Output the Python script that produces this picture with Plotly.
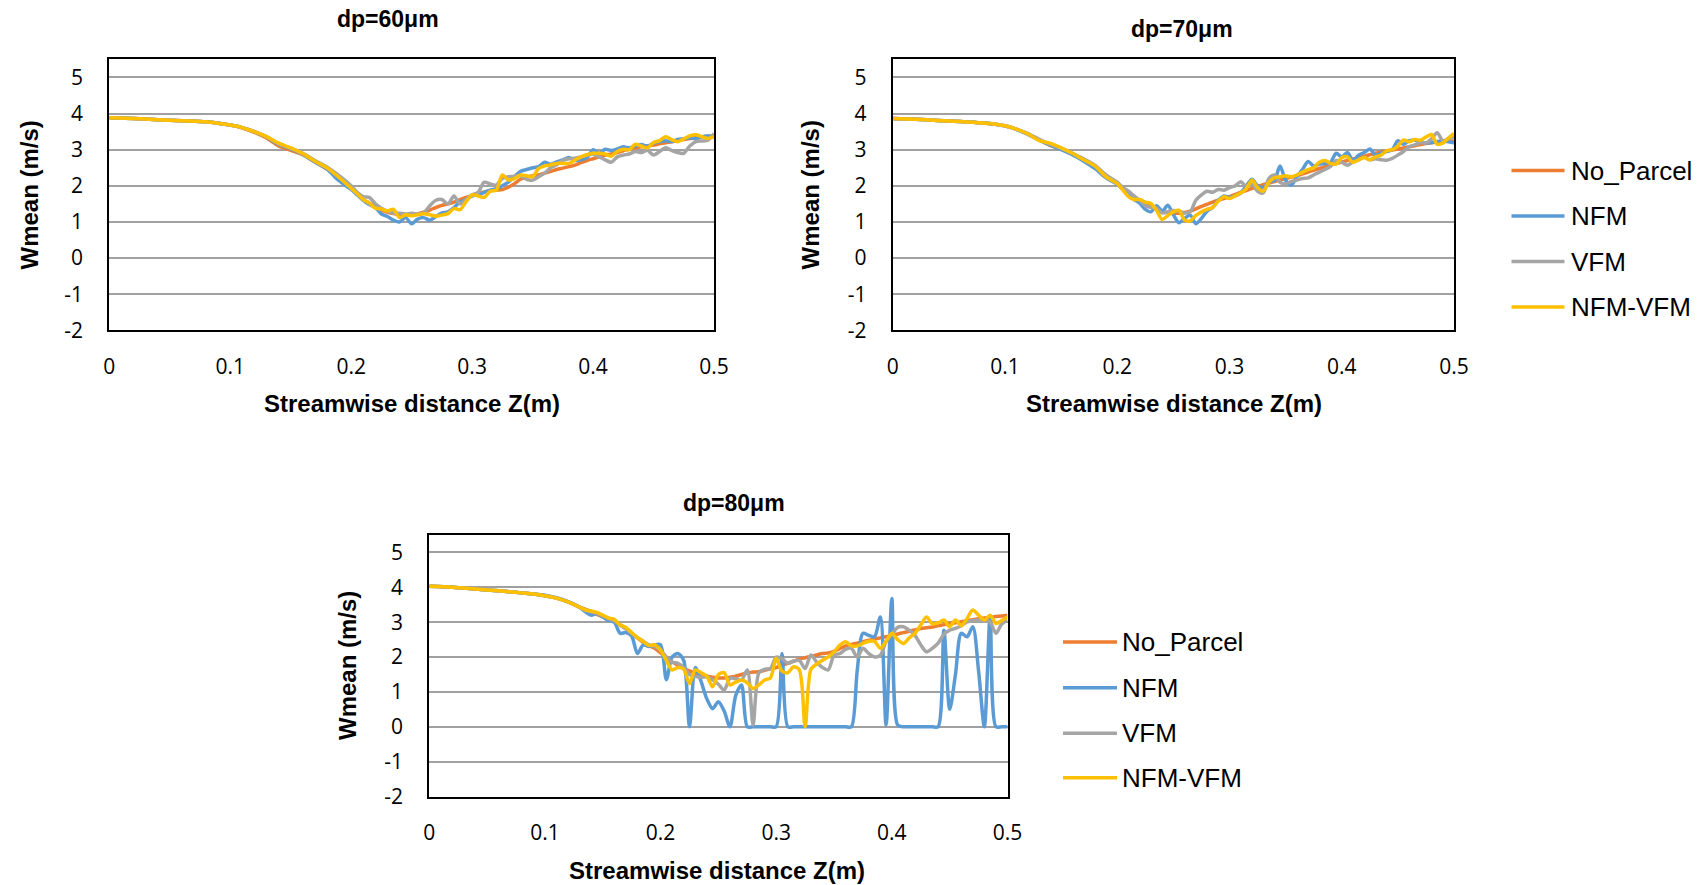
import plotly.graph_objects as go

# ---------------- data ----------------
SERIES = ["No_Parcel", "NFM", "VFM", "NFM-VFM"]
COLORS = ["#ED7D31", "#5B9BD5", "#A5A5A5", "#FFC000"]
TITLES = ["dp=60\u03bcm", "dp=70\u03bcm", "dp=80\u03bcm"]
X_TITLE = "Streamwise distance Z(m)"
Y_TITLE = "Wmean (m/s)"
X_TICKS = [0, 0.1, 0.2, 0.3, 0.4, 0.5]
X_TICK_LABELS = ["0", "0.1", "0.2", "0.3", "0.4", "0.5"]
Y_TICKS = [-2, -1, 0, 1, 2, 3, 4, 5]
Y_TICK_LABELS = ["-2", "-1", "0", "1", "2", "3", "4", "5"]

Z_COARSE = [0, 0.02, 0.04, 0.06, 0.08, 0.09, 0.10, 0.11, 0.12, 0.13]
Z_MID = [0.14, 0.15, 0.16, 0.17, 0.18, 0.19, 0.20]
Z_MID3 = [0.135, 0.14, 0.145, 0.15, 0.155, 0.16, 0.165, 0.17, 0.175, 0.18,
          0.185, 0.19, 0.195, 0.20]
Z_FINE = [0.205, 0.21, 0.215, 0.22, 0.225, 0.23, 0.235, 0.24, 0.245, 0.25,
          0.255, 0.26, 0.265, 0.27, 0.275, 0.28, 0.285, 0.29, 0.295, 0.30,
          0.305, 0.31, 0.315, 0.32, 0.325, 0.33, 0.335, 0.34, 0.345, 0.35,
          0.355, 0.36, 0.365, 0.37, 0.375, 0.38, 0.385, 0.39, 0.395, 0.40,
          0.405, 0.41, 0.415, 0.42, 0.425, 0.43, 0.435, 0.44, 0.445, 0.45,
          0.455, 0.46, 0.465, 0.47, 0.475, 0.48, 0.485, 0.49, 0.495, 0.50]
Z_A = Z_COARSE + Z_MID + Z_FINE      # charts dp=60 and dp=70
Z_B = Z_COARSE + Z_MID3 + Z_FINE     # chart dp=80

# dp = 60 um
C1_NO_PARCEL = [3.88, 3.86, 3.83, 3.80, 3.77, 3.73, 3.68, 3.60, 3.48, 3.32,
                3.10, 2.98, 2.86, 2.66, 2.47, 2.22, 1.94,
                1.78, 1.62, 1.52, 1.42, 1.33, 1.27, 1.23, 1.21, 1.20, 1.20,
                1.22, 1.27, 1.33, 1.40, 1.46, 1.50, 1.55, 1.62, 1.68, 1.73,
                1.78, 1.83, 1.86, 1.88, 1.90, 1.96, 2.06, 2.18, 2.24, 2.28,
                2.30, 2.35, 2.40, 2.45, 2.49, 2.53, 2.57, 2.64, 2.70, 2.75,
                2.80, 2.85, 2.88, 2.92, 2.97, 3.02, 3.05, 3.08, 3.10, 3.13,
                3.16, 3.19, 3.22, 3.25, 3.28, 3.31, 3.34, 3.36, 3.37, 3.38]
C1_NFM = [3.88, 3.86, 3.83, 3.80, 3.77, 3.73, 3.68, 3.61, 3.50, 3.35,
          3.15, 3.02, 2.87, 2.66, 2.46, 2.14, 1.90,
          1.75, 1.60, 1.48, 1.40, 1.22, 1.15, 1.05, 1.00, 1.12, 0.95,
          1.08, 1.12, 1.05, 1.15, 1.25, 1.28, 1.40, 1.55, 1.62, 1.72,
          1.75, 1.82, 1.88, 1.92, 2.00, 2.10, 2.25, 2.40, 2.45, 2.50,
          2.53, 2.65, 2.60, 2.66, 2.72, 2.78, 2.70, 2.72, 2.78, 3.00,
          2.90, 3.01, 2.98, 3.02, 3.08, 3.05, 3.10, 3.14, 3.10, 3.18,
          3.22, 3.25, 3.22, 3.28, 3.30, 3.33, 3.30, 3.36, 3.38, 3.35]
C1_VFM = [3.88, 3.86, 3.83, 3.80, 3.77, 3.73, 3.68, 3.61, 3.50, 3.36,
          3.16, 3.04, 2.90, 2.70, 2.52, 2.28, 2.00,
          1.82, 1.70, 1.68, 1.50, 1.38, 1.30, 1.25, 1.24, 1.22, 1.24,
          1.22, 1.25, 1.45, 1.60, 1.62, 1.50, 1.72, 1.50, 1.62, 1.75,
          1.82, 2.10, 2.05, 2.02, 2.20, 2.25, 2.26, 2.28, 2.18, 2.16,
          2.25, 2.35, 2.50, 2.58, 2.70, 2.75, 2.76, 2.80, 2.85, 2.88,
          2.80, 2.72, 2.65, 2.80, 2.85, 2.88, 2.95, 2.92, 2.98, 2.85,
          2.95, 3.05, 2.98, 2.92, 2.90, 3.10, 3.22, 3.24, 3.26, 3.45]
C1_NFM_VFM = [3.88, 3.86, 3.83, 3.80, 3.77, 3.73, 3.68, 3.61, 3.50, 3.36,
              3.18, 3.05, 2.89, 2.68, 2.50, 2.23, 1.93,
              1.78, 1.62, 1.52, 1.38, 1.36, 1.30, 1.35, 1.12, 1.20, 1.17,
              1.20, 1.23, 1.20, 1.16, 1.19, 1.23, 1.37, 1.34, 1.56, 1.75,
              1.72, 1.68, 1.85, 1.88, 2.30, 2.16, 2.20, 2.30, 2.28, 2.25,
              2.48, 2.55, 2.58, 2.62, 2.62, 2.62, 2.71, 2.80, 2.86, 2.90,
              2.90, 2.88, 2.82, 2.95, 3.01, 3.00, 3.15, 3.10, 3.05, 3.20,
              3.25, 3.36, 3.28, 3.22, 3.30, 3.38, 3.41, 3.36, 3.31, 3.36]

# dp = 70 um
C2_NO_PARCEL = [3.86, 3.84, 3.81, 3.78, 3.74, 3.71, 3.66, 3.57, 3.44, 3.28,
                3.12, 3.02, 2.88, 2.72, 2.54, 2.26, 2.05,
                1.92, 1.80, 1.68, 1.58, 1.50, 1.42, 1.35, 1.30, 1.26, 1.24,
                1.24, 1.26, 1.30, 1.36, 1.43, 1.49, 1.55, 1.60, 1.65, 1.70,
                1.76, 1.82, 1.87, 1.93, 1.98, 2.03, 2.08, 2.12, 2.16, 2.20,
                2.24, 2.28, 2.33, 2.38, 2.43, 2.48, 2.53, 2.58, 2.62, 2.66,
                2.70, 2.74, 2.78, 2.82, 2.86, 2.90, 2.93, 2.96, 2.99, 3.02,
                3.05, 3.08, 3.11, 3.14, 3.17, 3.19, 3.21, 3.22, 3.23, 3.24]
C2_NFM = [3.86, 3.84, 3.81, 3.78, 3.74, 3.71, 3.65, 3.56, 3.43, 3.27,
          3.13, 3.00, 2.86, 2.68, 2.48, 2.22, 2.04,
          1.90, 1.78, 1.62, 1.52, 1.35, 1.28, 1.45, 1.30, 1.46, 1.20,
          0.98, 1.10, 1.19, 0.95, 1.10, 1.30, 1.40, 1.60, 1.72, 1.68,
          1.72, 1.80, 2.00, 2.18, 2.00, 1.95, 2.10, 2.15, 2.55, 2.15,
          2.02, 2.25, 2.45, 2.67, 2.55, 2.60, 2.62, 2.65, 2.90, 2.80,
          2.92, 2.70, 2.85, 2.92, 3.02, 2.85, 2.90, 2.95, 3.00, 3.25,
          3.15, 3.25, 3.26, 3.22, 3.18, 3.20, 3.22, 3.25, 3.22, 3.19]
C2_VFM = [3.86, 3.84, 3.81, 3.78, 3.74, 3.71, 3.66, 3.57, 3.45, 3.29,
          3.15, 3.04, 2.90, 2.75, 2.57, 2.30, 2.10,
          1.95, 1.85, 1.72, 1.60, 1.45, 1.40, 1.38, 1.25, 1.28, 1.32,
          1.30, 1.25, 1.28, 1.60, 1.75, 1.85, 1.82, 1.90, 1.88, 1.95,
          2.00, 2.11, 1.98, 2.05, 1.85, 1.80, 2.20, 2.30, 2.10, 2.05,
          2.12, 2.16, 2.20, 2.22, 2.30, 2.38, 2.45, 2.54, 2.70, 2.65,
          2.57, 2.66, 2.72, 2.78, 2.72, 2.75, 2.72, 2.71, 2.76, 2.85,
          2.95, 3.08, 3.13, 3.20, 3.18, 3.30, 3.47, 3.25, 3.30, 3.36]
C2_NFM_VFM = [3.86, 3.84, 3.81, 3.78, 3.74, 3.71, 3.66, 3.57, 3.44, 3.26,
              3.18, 3.05, 2.90, 2.72, 2.55, 2.25, 2.06,
              1.88, 1.70, 1.62, 1.62, 1.55, 1.51, 1.32, 1.07, 1.18, 1.28,
              1.32, 1.05, 1.03, 1.18, 1.28, 1.35, 1.40, 1.58, 1.70, 1.65,
              1.72, 1.80, 1.92, 2.16, 1.95, 1.85, 2.10, 2.22, 2.25, 2.28,
              2.25, 2.30, 2.38, 2.45, 2.50, 2.65, 2.70, 2.62, 2.60, 2.78,
              2.80, 2.65, 2.72, 2.78, 2.72, 2.80, 2.85, 2.97, 3.00, 3.10,
              3.27, 3.22, 3.28, 3.26, 3.35, 3.42, 3.15, 3.18, 3.32, 3.45]

# dp = 80 um
C3_NO_PARCEL = [4.03, 4.00, 3.95, 3.90, 3.84, 3.81, 3.76, 3.69, 3.58, 3.43,
                3.37, 3.31, 3.22, 3.16, 3.10, 3.04, 2.92, 2.82, 2.68, 2.55,
                2.42, 2.33, 2.25, 2.12,
                1.98, 1.86, 1.76, 1.68, 1.60, 1.54, 1.49, 1.45, 1.42, 1.40,
                1.40, 1.42, 1.45, 1.50, 1.54, 1.57, 1.58, 1.62, 1.66, 1.70,
                1.76, 1.82, 1.88, 1.94, 1.98, 2.02, 2.06, 2.10, 2.12, 2.16,
                2.24, 2.32, 2.36, 2.40, 2.44, 2.48, 2.52, 2.55, 2.58, 2.62,
                2.66, 2.70, 2.74, 2.78, 2.82, 2.84, 2.86, 2.90, 2.93, 2.96,
                2.98, 3.01, 3.04, 3.07, 3.10, 3.12, 3.14, 3.16, 3.18, 3.20]
C3_NFM = [4.03, 4.00, 3.95, 3.90, 3.84, 3.81, 3.77, 3.70, 3.59, 3.43,
          3.30, 3.20, 3.25, 3.15, 3.05, 3.00, 2.68, 2.70, 2.60, 2.10,
          2.35, 2.30, 2.35, 2.35,
          1.35, 2.00, 2.10, 1.90, 0.00, 1.70, 1.30, 0.80, 0.52, 0.72,
          0.45, 0.00, 0.90, 1.20, 0.00, 0.00, 0.00, 0.00, 0.00, 0.00,
          2.10, 0.00, 0.00, 0.00, 0.00, 0.00, 0.00, 0.00, 0.00, 0.00,
          0.00, 0.00, 0.00, 1.60, 2.68, 2.62, 2.58, 3.15, 0.05, 3.68,
          0.05, 0.00, 0.00, 0.00, 0.00, 0.00, 0.00, 0.00, 2.77, 0.50,
          1.50, 2.68, 2.58, 2.87, 1.60, 0.00, 3.15, 0.00, 0.00, 0.00]
C3_VFM = [4.03, 4.00, 3.95, 3.90, 3.84, 3.81, 3.76, 3.69, 3.58, 3.43,
          3.35, 3.30, 3.25, 3.18, 3.10, 3.04, 2.92, 2.80, 2.68, 2.55,
          2.45, 2.35, 2.30, 2.20,
          2.00, 1.85, 1.82, 1.70, 1.50, 1.45, 1.42, 1.43, 1.35, 1.22,
          1.05, 1.39, 1.38, 1.34, 1.63, 0.05, 1.55, 1.65, 1.67, 2.00,
          1.95, 1.82, 1.88, 1.90, 1.67, 2.06, 1.85, 1.70, 1.63, 2.05,
          2.10, 2.22, 2.25, 2.00, 2.25, 2.10, 2.00, 2.05, 2.45, 2.65,
          2.85, 2.87, 2.77, 2.62, 2.35, 2.15, 2.25, 2.40, 2.65, 2.77,
          2.82, 2.90, 3.01, 3.04, 3.06, 3.06, 3.00, 2.68, 2.95, 3.06]
C3_NFM_VFM = [4.03, 4.00, 3.95, 3.90, 3.84, 3.81, 3.76, 3.69, 3.58, 3.43,
              3.35, 3.32, 3.28, 3.20, 3.12, 3.08, 2.92, 2.85, 2.70, 2.56,
              2.45, 2.33, 2.35, 2.20,
              1.90, 1.63, 1.70, 1.65, 1.24, 1.63, 1.55, 1.45, 1.15, 1.50,
              1.55, 1.20, 1.28, 1.34, 1.26, 1.10, 1.20, 1.34, 1.40, 1.96,
              1.60, 1.55, 1.72, 1.63, 0.00, 1.65, 1.80, 1.91, 2.00, 2.15,
              2.34, 2.44, 2.32, 2.32, 2.39, 2.45, 2.45, 2.25, 2.45, 2.68,
              2.50, 2.39, 2.55, 2.68, 2.92, 3.15, 2.95, 2.98, 3.06, 2.87,
              3.06, 2.90, 3.10, 3.35, 3.20, 3.06, 3.20, 2.96, 3.05, 3.15]

# ---------------- layout helpers (pixel geometry of the page) ----------------
W, H = 1701, 885


def fx(px):
    return px / W


def fy(py):
    return 1 - py / H


PANELS = [
    dict(title=TITLES[0], z=Z_A,
         ys=[C1_NO_PARCEL, C1_NFM, C1_VFM, C1_NFM_VFM],
         box=(109.3, 714.0, 59.3, 330.4), title_xy=(388, 18.5),
         ytitle_xy=(29.5, 195), xtitle_xy=(412, 403.5)),
    dict(title=TITLES[1], z=Z_A,
         ys=[C2_NO_PARCEL, C2_NFM, C2_VFM, C2_NFM_VFM],
         box=(892.8, 1454.0, 59.3, 330.4), title_xy=(1181.5, 29.3),
         ytitle_xy=(811.4, 195), xtitle_xy=(1173.8, 403.5)),
    dict(title=TITLES[2], z=Z_B,
         ys=[C3_NO_PARCEL, C3_NFM, C3_VFM, C3_NFM_VFM],
         box=(429.3, 1007.5, 535.0, 796.5), title_xy=(733.8, 503.3),
         ytitle_xy=(347, 666), xtitle_xy=(717, 870)),
]

LEGENDS = [
    dict(x0=1511.5, x1=1564.5, xt=1569, rows=[170.5, 216.0, 261.5, 307.0]),
    dict(x0=1063.0, x1=1117.0, xt=1120, rows=[642.0, 687.8, 733.3, 777.8]),
]

TICK_FONT = dict(family="Open Sans, Liberation Sans, Arial", size=21, color="#000000")
BOLD_FONT = dict(family="Liberation Sans, Arial", size=23, color="#000000", weight="bold")
XT_FONT = dict(family="Liberation Sans, Arial", size=24, color="#000000", weight="bold")
LEG_FONT = dict(family="Liberation Sans, Arial", size=26, color="#000000")

fig = go.Figure()
annotations = []
shapes = []
layout_axes = {}

for i, p in enumerate(PANELS):
    suffix = "" if i == 0 else str(i + 1)
    xref = "x" + suffix
    yref = "y" + suffix
    for name, color, yv in zip(SERIES, COLORS, p["ys"]):
        fig.add_trace(go.Scatter(
            x=p["z"], y=yv, name=name, mode="lines",
            line=dict(color=color, width=3.5, shape="spline", smoothing=0.8),
            xaxis=xref, yaxis=yref, showlegend=False))
    x0, x1, y0, y1 = p["box"]
    layout_axes["xaxis" + suffix] = dict(
        domain=[fx(x0), fx(x1)], anchor=yref, range=[0, 0.5], automargin=False,
        tickmode="array", tickvals=X_TICKS, ticktext=X_TICK_LABELS,
        showgrid=False, zeroline=False,
        showline=True, mirror=True, linecolor="#000000", linewidth=2,
        ticks="outside", ticklen=16, tickcolor="rgba(0,0,0,0)",
        tickfont=TICK_FONT)
    layout_axes["yaxis" + suffix] = dict(
        domain=[fy(y1), fy(y0)], anchor=xref, range=[-2, 5.5], automargin=False,
        tickmode="array", tickvals=Y_TICKS, ticktext=Y_TICK_LABELS,
        showgrid=True, gridcolor="#A0A0A0", gridwidth=1.6, zeroline=False,
        showline=True, mirror=True, linecolor="#000000", linewidth=2,
        ticks="outside", ticklen=20, tickcolor="rgba(0,0,0,0)",
        tickfont=TICK_FONT)
    tx, ty = p["title_xy"]
    annotations.append(dict(text=p["title"], x=fx(tx), y=fy(ty), xref="paper", yref="paper",
                            xanchor="center", yanchor="middle", showarrow=False, font=BOLD_FONT))
    tx, ty = p["xtitle_xy"]
    annotations.append(dict(text=X_TITLE, x=fx(tx), y=fy(ty), xref="paper", yref="paper",
                            xanchor="center", yanchor="middle", showarrow=False, font=XT_FONT))
    tx, ty = p["ytitle_xy"]
    annotations.append(dict(text=Y_TITLE, x=fx(tx), y=fy(ty), xref="paper", yref="paper",
                            xanchor="center", yanchor="middle", showarrow=False,
                            textangle=-90, font=XT_FONT))

for lg in LEGENDS:
    for name, color, ry in zip(SERIES, COLORS, lg["rows"]):
        shapes.append(dict(type="line", xref="paper", yref="paper",
                           x0=fx(lg["x0"]), x1=fx(lg["x1"]), y0=fy(ry), y1=fy(ry),
                           line=dict(color=color, width=3.5)))
        annotations.append(dict(text=name, x=fx(lg["xt"]), y=fy(ry), xref="paper", yref="paper",
                                xanchor="left", yanchor="middle", showarrow=False, font=LEG_FONT))

fig.update_layout(
    width=W, height=H, autosize=False,
    margin=dict(l=0, r=0, t=0, b=0, pad=0, autoexpand=False),
    paper_bgcolor="#FFFFFF", plot_bgcolor="#FFFFFF",
    showlegend=False,
    annotations=annotations, shapes=shapes,
    **layout_axes)

fig.write_html("out.html")
